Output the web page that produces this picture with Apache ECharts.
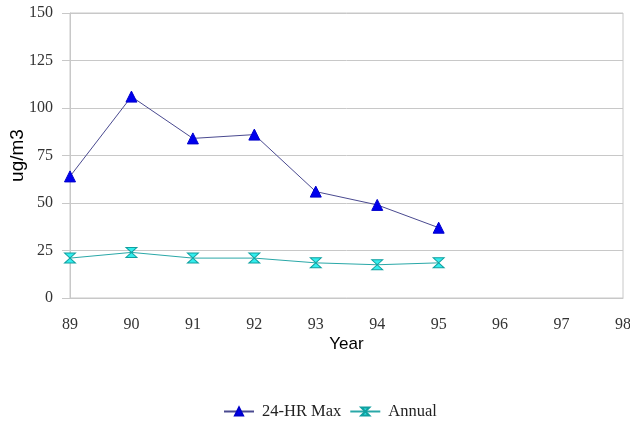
<!DOCTYPE html>
<html><head><meta charset="utf-8">
<script src="https://cdn.jsdelivr.net/npm/echarts@6/dist/echarts.min.js"></script>
<style>html,body{margin:0;padding:0;background:#fff}#c{width:630px;height:422px}</style>
</head><body><div id="c"></div>
<script>
const years = ['89','90','91','92','93','94','95','96','97','98'];
const maxValues = [64, 106, 84, 86, 56, 49, 37];
const annualValues = [21, 24, 21, 21, 18.5, 17.5, 18.5];
const yTicks = [0, 25, 50, 75, 100, 125, 150];

const serif = '"Liberation Serif", "DejaVu Serif", serif';
const sans = '"Liberation Sans", Arial, sans-serif';
const hourglass = 'path://M0,0 L10,0 L0,10 L10,10 Z';

const chart = echarts.init(document.getElementById('c'));
chart.setOption({
  animation: false,
  backgroundColor: '#fff',
  grid: { left: 70, right: 7, top: 13, bottom: 124, show: true, borderColor: '#c8c8c8', borderWidth: 1, outerBoundsMode: 'none', containLabel: false },
  xAxis: {
    type: 'category', data: years, boundaryGap: false,
    name: 'Year', nameLocation: 'middle', nameGap: 38, nameMoveOverlap: false,
    nameTextStyle: { fontFamily: sans, fontSize: 17, color: '#000' },
    axisLine: { lineStyle: { color: '#c8c8c8' } },
    axisTick: { show: false },
    axisLabel: { fontFamily: serif, fontSize: 16, color: '#333', margin: 19 },
    splitLine: { show: false }
  },
  yAxis: {
    type: 'value', min: yTicks[0], max: yTicks[yTicks.length - 1], interval: 25,
    name: 'ug/m3', nameLocation: 'middle', nameGap: 43, nameMoveOverlap: false,
    nameTextStyle: { fontFamily: sans, fontSize: 19, color: '#000' },
    axisLine: { show: true, lineStyle: { color: '#c8c8c8' } },
    axisTick: { show: true, length: 8, lineStyle: { color: '#c8c8c8' } },
    axisLabel: { fontFamily: serif, fontSize: 16, color: '#333', margin: 17 },
    splitLine: { lineStyle: { color: '#c8c8c8' } }
  },
  legend: {
    top: 403, left: 223, itemGap: 8, itemWidth: 30, itemHeight: 10, padding: 0,
    textStyle: { fontFamily: serif, fontSize: 16.5, color: '#222', padding: [0, 0, 0, 3] },
    data: ['24-HR Max', 'Annual']
  },
  series: [
    {
      name: '24-HR Max', type: 'line', data: maxValues,
      symbol: 'triangle', symbolSize: 11,
      lineStyle: { color: '#4a4a90', width: 1 },
      itemStyle: { color: '#0000ee', borderColor: '#0000cc', borderWidth: 1 }
    },
    {
      name: 'Annual', type: 'line', data: annualValues,
      symbol: hourglass, symbolSize: [11, 10],
      lineStyle: { color: '#2aa8a8', width: 1 },
      itemStyle: { color: '#33eeee', borderColor: '#11a0a0', borderWidth: 1 }
    }
  ]
});
</script></body></html>
